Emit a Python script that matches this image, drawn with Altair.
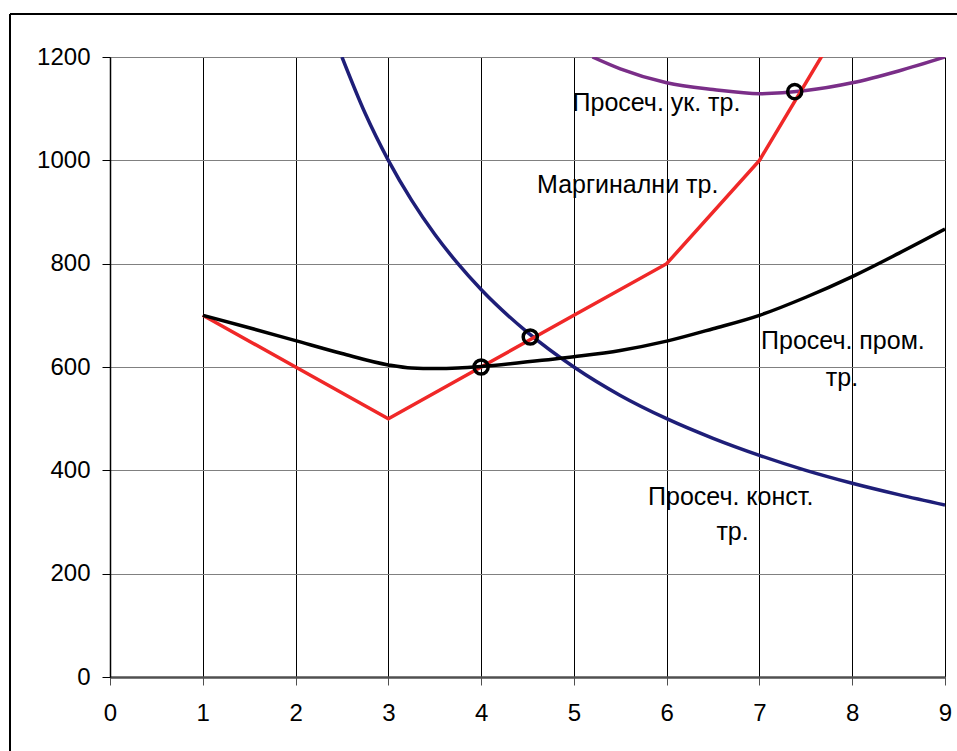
import altair as alt
import pandas as pd

# Average fixed cost
afc_q = [2.5, 2.75, 3, 3.25, 3.5, 3.75, 4, 4.5, 5, 5.5, 6, 6.5, 7, 7.5, 8, 8.5, 9]
afc_v = [1200, 1091, 1000, 923, 857, 800, 750, 667, 600, 545, 500, 462, 429, 400, 375, 353, 333]

# Average variable cost
avc_q = [1, 1.5, 2, 2.5, 3, 3.25, 3.5, 3.75, 4, 4.5, 5, 5.5, 6, 6.5, 7, 7.5, 8, 8.5, 9]
avc_v = [700, 676, 651, 626, 604, 598, 597, 598, 601, 610, 620, 632, 650, 674, 700, 735, 775, 820, 867]

# Marginal cost
mc_q = [1, 2, 3, 4, 5, 6, 7, 8]
mc_v = [700, 600, 500, 600, 700, 800, 1000, 1300]

# Average total cost
atc_q = [5.2, 5.5, 6, 6.5, 7, 7.5, 8, 8.5, 9]
atc_v = [1200, 1177, 1150, 1137, 1129, 1135, 1150, 1173, 1200]

# Highlighted intersections
pt_q = [4, 4.53, 7.38]
pt_v = [600, 658, 1133]

# Curve labels
lab_text = ["Просеч. ук. тр.", "Маргинални тр.", "Просеч. пром.", "тр.", "Просеч. конст.", "тр."]
lab_q = [5.89, 5.58, 7.9, 7.89, 6.69, 6.71]
lab_v = [1111, 952, 650, 579, 348, 281]

W, H = 835, 620
FONT = "Liberation Sans"

xs = alt.Scale(domain=[0, 9], nice=False, zero=False)
ys = alt.Scale(domain=[0, 1200], nice=False)

x_axis = alt.Axis(values=list(range(10)), format="d", grid=True, gridColor="black", gridWidth=1,
                  domainColor="#505050", domainWidth=2.5, tickColor="#505050", tickSize=8,
                  labelFont=FONT, labelFontSize=24, labelColor="black", labelPadding=16,
                  labelFlush=False, title=None)
y_axis = alt.Axis(values=list(range(0, 1201, 200)), format="d", grid=True, gridColor="#808080", gridWidth=1,
                  domainColor="black", domainWidth=1.5, tickColor="black", tickSize=8,
                  labelFont=FONT, labelFontSize=24, labelColor="black", labelPadding=12,
                  title=None)


def curve(q, v, color, interp):
    df = pd.DataFrame({"q": q, "v": v})
    return alt.Chart(df).mark_line(color=color, strokeWidth=3.5, interpolate=interp, clip=True).encode(
        x=alt.X("q:Q", scale=xs, axis=x_axis),
        y=alt.Y("v:Q", scale=ys, axis=y_axis),
    )


afc = curve(afc_q, afc_v, "#1e1e78", "monotone")
avc = curve(avc_q, avc_v, "black", "monotone")
mc = curve(mc_q, mc_v, "#f02828", "linear")
atc = curve(atc_q, atc_v, "#7a2e88", "monotone")

pts = alt.Chart(pd.DataFrame({"q": pt_q, "v": pt_v})).mark_point(
    shape="circle", size=200, filled=False, stroke="black", strokeWidth=3.5, opacity=1
).encode(x=alt.X("q:Q", scale=xs), y=alt.Y("v:Q", scale=ys))

labels = alt.Chart(pd.DataFrame({"t": lab_text, "q": lab_q, "v": lab_v})).mark_text(
    font=FONT, fontSize=25, color="black", align="center", baseline="middle"
).encode(x=alt.X("q:Q", scale=xs), y=alt.Y("v:Q", scale=ys), text="t:N")

# outer frame around the whole chart
frame_left = alt.Chart(pd.DataFrame({"a": [0]})).mark_rule(color="black", strokeWidth=2).encode(
    x=alt.value(-100), y=alt.value(-43), y2=alt.value(720))
frame_top = alt.Chart(pd.DataFrame({"a": [0]})).mark_rule(color="black", strokeWidth=2).encode(
    x=alt.value(-100), x2=alt.value(900), y=alt.value(-43))

chart = alt.layer(afc, atc, mc, avc, pts, labels, frame_left, frame_top).properties(
    width=W, height=H,
    autosize=alt.AutoSizeParams(type="none"),
    padding={"left": 110, "top": 57, "right": 12, "bottom": 74},
    background="white",
).configure_view(stroke=None)

chart.save("out.html", embed_options={"renderer": "svg", "actions": False})
